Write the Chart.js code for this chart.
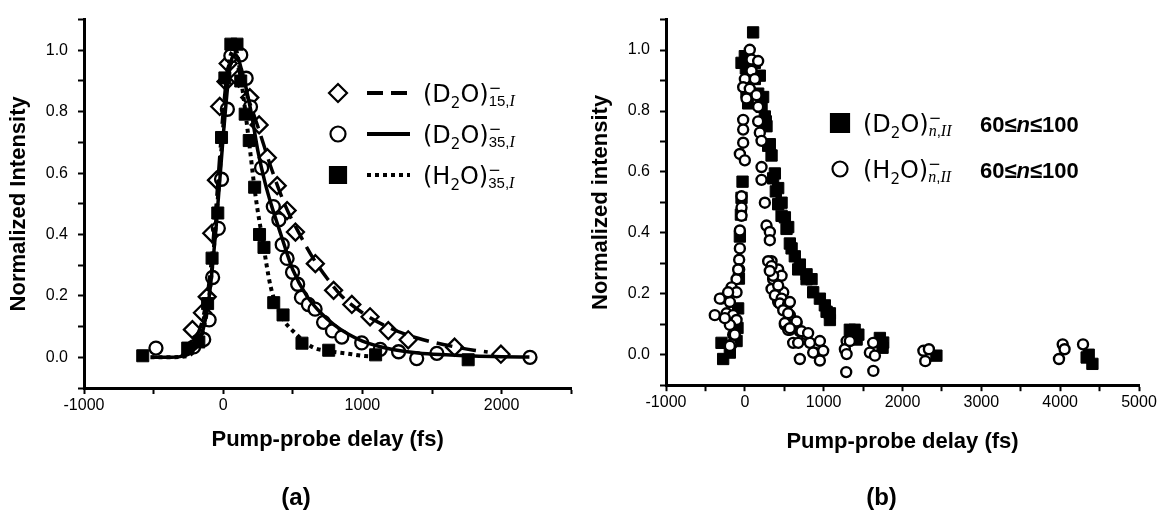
<!DOCTYPE html>
<html>
<head>
<meta charset="utf-8">
<script src="https://cdn.jsdelivr.net/npm/chart.js@4.4.1/dist/chart.umd.min.js"></script>
<style>
  html, body { margin: 0; padding: 0; background: #fff; }
  #wrap { position: relative; width: 1164px; height: 517px; }
  .panel { position: absolute; top: 0; width: 582px; height: 517px; }
</style>
</head>
<body>
<div id="wrap">
  <div class="panel" style="left:0"><canvas id="chartA" width="582" height="517"></canvas></div>
  <div class="panel" style="left:582px"><canvas id="chartB" width="582" height="517"></canvas></div>
</div>
<script>
// ---- Panel (a): data points ----
const d2o15X = [-221, -149, -115, -82, -48, -25, 20, 36, 111, 191, 258, 317, 388, 459, 519, 662, 793, 924, 1055, 1186, 1329, 1662, 1995];
const d2o15Y = [0.09, 0.145, 0.197, 0.404, 0.577, 0.817, 0.898, 0.957, 0.909, 0.846, 0.757, 0.65, 0.559, 0.478, 0.408, 0.305, 0.218, 0.172, 0.132, 0.087, 0.057, 0.033, 0.01];

const d2o35X = [-483, -212, -140, -101, -76, -35, -12, 30, 55, 126, 165, 196, 276, 360, 400, 424, 459, 498, 535, 562, 612, 660, 721, 785, 852, 995, 1128, 1260, 1390, 1535, 2204];
const d2o35Y = [0.03, 0.034, 0.058, 0.122, 0.26, 0.42, 0.58, 0.808, 0.982, 0.985, 0.909, 0.816, 0.617, 0.491, 0.448, 0.367, 0.322, 0.277, 0.238, 0.195, 0.172, 0.157, 0.114, 0.086, 0.066, 0.047, 0.026, 0.018, -0.004, 0.013, 0.0];

const h2o35X = [-578, -255, -175, -112, -80, -39, -12, 12, 55, 99, 126, 158, 187, 226, 261, 293, 363, 430, 566, 758, 1095, 1760];
const h2o35Y = [0.005, 0.03, 0.05, 0.175, 0.323, 0.47, 0.716, 0.91, 1.02, 1.02, 0.9, 0.792, 0.706, 0.554, 0.4, 0.358, 0.178, 0.138, 0.046, 0.023, 0.008, -0.008];

// ---- Panel (a): fitted curves ----
const fit15X = [-300, -250, -200, -150, -100, -50, 0, 40, 80, 150, 250, 350, 450, 550, 650, 750, 850, 1000, 1200, 1400, 1600, 1800, 1900];
const fit15Y = [0.005, 0.02, 0.06, 0.12, 0.25, 0.5, 0.8, 0.95, 0.96, 0.88, 0.75, 0.61, 0.49, 0.4, 0.32, 0.255, 0.2, 0.145, 0.095, 0.062, 0.04, 0.023, 0.017];

const fit35X = [-520, -400, -300, -250, -200, -150, -100, -50, 0, 50, 90, 130, 200, 250, 300, 350, 400, 450, 500, 600, 700, 800, 900, 1000, 1200, 1400, 1600, 1800, 2000, 2200];
const fit35Y = [0.0, 0.0, 0.003, 0.01, 0.03, 0.08, 0.2, 0.43, 0.72, 0.95, 0.985, 0.94, 0.8, 0.67, 0.57, 0.49, 0.42, 0.35, 0.285, 0.2, 0.145, 0.105, 0.075, 0.053, 0.027, 0.014, 0.008, 0.004, 0.002, 0.001];

const fitH35X = [-580, -400, -250, -200, -150, -100, -50, 0, 50, 90, 130, 186, 234, 280, 341, 424, 519, 638, 760, 876, 1019, 1100];
const fitH35Y = [0.0, 0.0, 0.005, 0.03, 0.08, 0.2, 0.45, 0.75, 0.98, 1.0, 0.9, 0.7, 0.52, 0.39, 0.23, 0.13, 0.078, 0.034, 0.02, 0.013, 0.004, 0.003];

// ---- Panel (b): data points ----
const d2oNX = [-296, -275, -190, -105, -93, -85, -75, -63, -50, -42, -29, -42, 0, 13, 21, 42, 105, 127, 127, 169, 190, 212, 232, 254, 266, 275, 296, 317, 339, 359, 381, 393, 423, 423, 466, 466, 508, 529, 550, 571, 593, 634, 677, 698, 783, 783, 846, 867, 952, 1015, 1037, 1079, 1079, 1332, 1393, 1418, 1440, 1713, 1747, 1755, 2430, 4336, 4362, 4409];
const d2oNY = [0.039, -0.014, 0.007, 0.045, 0.088, 0.152, 0.25, 0.388, 0.46, 0.515, 0.568, 0.958, 0.98, 0.94, 0.862, 0.825, 1.058, 0.958, 0.905, 0.857, 0.916, 0.814, 0.846, 0.782, 0.766, 0.75, 0.686, 0.691, 0.654, 0.579, 0.595, 0.536, 0.547, 0.494, 0.499, 0.456, 0.451, 0.413, 0.419, 0.365, 0.349, 0.323, 0.28, 0.296, 0.264, 0.248, 0.248, 0.205, 0.184, 0.162, 0.141, 0.136, 0.114, 0.082, 0.082, 0.05, 0.066, 0.055, 0.023, 0.04, -0.003, -0.009, 0.0, -0.03];

const h2oNX = [63, 85, 169, 85, 0, 127, -21, 63, 148, 21, 169, -21, 169, -21, 190, -21, -63, 0, 212, 212, 212, 254, 275, 317, 317, 339, 423, 359, 466, 487, 381, 423, 529, 571, 508, 571,
  -42, -42, -42, -63, -63, -72, -72, -105, -169, -105, -296, -190, -381, -232, -148, -105, -190, -148, -169, -317, -212, -254, -127, -190, -85,
  296, 339, 359, 317, 339, 423, 381, 466, 444, 550, 487, 550, 508, 550, 656, 698, 698, 783, 825, 888, 952, 994, 952, 613, 571, 656, 571, 719, 803, 677, 867,
  1291, 1269, 1291, 1286, 1332, 1628, 1586, 1650, 1630, 2265, 2335, 2289, 3985, 4032, 4056, 4290];
const h2oNY = [1.001, 0.969, 0.964, 0.932, 0.905, 0.905, 0.878, 0.873, 0.852, 0.841, 0.814, 0.771, 0.766, 0.739, 0.729, 0.696, 0.659, 0.638, 0.702, 0.616, 0.574, 0.499, 0.424, 0.403, 0.376, 0.307, 0.28, 0.248, 0.259, 0.205, 0.211, 0.173, 0.163, 0.13, 0.098, 0.082,
  0.52, 0.483, 0.456, 0.408, 0.349, 0.312, 0.28, 0.248, 0.221, 0.205, 0.184, 0.173, 0.13, 0.136, 0.13, 0.114, 0.098, 0.066, 0.034, 0.184, 0.205, 0.12, 0.066, 0.029, 0.28,
  0.307, 0.291, 0.259, 0.275, 0.216, 0.227, 0.195, 0.184, 0.168, 0.168, 0.146, 0.136, 0.104, 0.082, 0.104, 0.077, -0.014, 0.066, 0.039, 0.007, 0.045, 0.013, -0.019, 0.039, 0.173, 0.109, 0.087, 0.077, 0.071, 0.039, 0.007,
  0.045, 0.018, 0.002, -0.057, 0.045, 0.039, 0.007, -0.003, -0.053, 0.013, 0.018, -0.021, -0.014, 0.034, 0.018, 0.034];

// ---- tick labels ----
const xLabelsA = [-1000, 0, 1000, 2000];
const xLabelsB = [-1000, 0, 1000, 2000, 3000, 4000, 5000];
const yLabels = [0.0, 0.2, 0.4, 0.6, 0.8, 1.0];

const SANS = '"Liberation Sans", Arial, sans-serif';
const toXY = (xs, ys) => xs.map((x, i) => ({ x: x, y: ys[i] }));

// padLeft only moves the "(a)"/"(b)" caption; the plot edge stays at x = 84
function buildOptions(cfg) {
  return {
    responsive: false,
    animation: false,
    events: [],
    layout: { padding: { top: cfg.padTop, right: cfg.padRight, bottom: 4, left: cfg.padLeft } },
    plugins: {
      legend: { display: false },
      tooltip: { enabled: false },
      title: {
        display: true, text: cfg.label, position: 'bottom', color: '#000', padding: 0,
        font: { family: SANS, size: 24, weight: 'bold' }
      }
    },
    scales: {
      x: {
        type: 'linear', min: cfg.xMin, max: cfg.xMax,
        border: { display: true, color: '#000', width: 3 },
        grid: { display: true, drawOnChartArea: false, drawTicks: true, tickLength: 6, tickWidth: 2, tickColor: '#000' },
        ticks: {
          stepSize: 500, autoSkip: false, maxRotation: 0, padding: 2, color: '#000',
          font: { family: SANS, size: 16 },
          callback: v => cfg.xLabels.includes(v) ? String(v) : ''
        },
        title: {
          display: true, text: 'Pump-probe delay (fs)', color: '#000',
          font: { family: SANS, size: 22, weight: 'bold' },
          padding: { top: 0, bottom: cfg.xTitlePad }
        },
        afterFit: s => { s.height = cfg.xAxisH; }
      },
      y: {
        type: 'linear', min: -0.1, max: 1.1,
        border: { display: true, color: '#000', width: 3 },
        grid: { display: true, drawOnChartArea: false, drawTicks: true, tickLength: 6, tickWidth: 2, tickColor: '#000' },
        ticks: {
          stepSize: 0.1, autoSkip: false, padding: 10, color: '#000',
          font: { family: SANS, size: 16 },
          callback: v => {
            const r = Math.round(v * 10) / 10;
            return yLabels.includes(r) ? r.toFixed(1) : '';
          }
        },
        title: {
          display: true, text: cfg.yTitle, color: '#000',
          font: { family: SANS, size: 22, weight: 'bold' },
          padding: { top: 6 - cfg.padLeft, bottom: 0 }
        },
        afterFit: s => { s.width = 84 - cfg.padLeft; }
      }
    }
  };
}

// legend helpers: marker + formula text with sub/superscripts
function drawMarker(ctx, style, x, y, r) {
  ctx.beginPath();
  if (style === 'diamond') {
    ctx.moveTo(x - r, y); ctx.lineTo(x, y - r); ctx.lineTo(x + r, y); ctx.lineTo(x, y + r); ctx.closePath();
  } else if (style === 'circle') {
    ctx.arc(x, y, r, 0, Math.PI * 2);
  } else {
    ctx.rect(x - r, y - r, 2 * r, 2 * r);
  }
  ctx.fillStyle = style === 'square' ? '#000' : '#fff';
  ctx.fill();
  ctx.lineWidth = 2.2;
  ctx.strokeStyle = '#000';
  ctx.stroke();
}

function drawRuns(ctx, x, y, runs) {
  ctx.fillStyle = '#000';
  ctx.textBaseline = 'alphabetic';
  ctx.textAlign = 'left';
  runs.forEach(r => {
    ctx.font = r.font;
    ctx.fillText(r.text, x, y + (r.dy || 0));
    if (!r.stay) x += ctx.measureText(r.text).width;
  });
  return x;
}

const MAIN = '24px "DejaVu Sans"';
const SUB = '15px "DejaVu Sans"';
const SUBN = '15px ' + SANS;
const SUBI = 'italic 16px "Liberation Serif"';

function formula(mol, digit, subRuns) {
  return [
    { text: '(' + mol, font: MAIN },
    { text: digit, font: SUB, dy: 6 },
    { text: 'O)', font: MAIN },
    { text: '\u2212', font: SUB, dy: -9, stay: true }
  ].concat(subRuns);
}

const legendA = {
  id: 'legendA',
  afterDraw(chart) {
    const ctx = chart.ctx;
    ctx.save();
    const rows = [
      { y: 93, marker: 'diamond', r: 9, dash: [16, 8], mol: 'D', sub: '15,' },
      { y: 134, marker: 'circle', r: 7.5, dash: [], mol: 'D', sub: '35,' },
      { y: 175, marker: 'square', r: 8, dash: [4, 4], mol: 'H', sub: '35,' }
    ];
    rows.forEach(row => {
      drawMarker(ctx, row.marker, 338, row.y, row.r);
      ctx.beginPath();
      ctx.setLineDash(row.dash);
      ctx.lineWidth = 4;
      ctx.strokeStyle = '#000';
      ctx.moveTo(367, row.y);
      ctx.lineTo(410, row.y);
      ctx.stroke();
      ctx.setLineDash([]);
      drawRuns(ctx, 423, row.y + 8.5, formula(row.mol, '2', [
        { text: row.sub, font: SUBN, dy: 4.5 },
        { text: 'I', font: SUBI, dy: 4.5 }
      ]));
    });
    ctx.restore();
  }
};

const legendB = {
  id: 'legendB',
  afterDraw(chart) {
    const ctx = chart.ctx;
    ctx.save();
    const rows = [
      { y: 123, marker: 'square', r: 9, mol: 'D' },
      { y: 169, marker: 'circle', r: 7.5, mol: 'H' }
    ];
    rows.forEach(row => {
      drawMarker(ctx, row.marker, 258, row.y, row.r);
      drawRuns(ctx, 281, row.y + 8.5, formula(row.mol, '2', [
        { text: 'n', font: SUBI, dy: 4 },
        { text: ',', font: SUBN, dy: 4 },
        { text: 'II', font: SUBI, dy: 4 }
      ]));
      drawRuns(ctx, 398, row.y + 8.5, [
        { text: '60\u2264', font: 'bold 22px ' + SANS },
        { text: 'n', font: 'italic bold 22px ' + SANS },
        { text: '\u2264100', font: 'bold 22px ' + SANS }
      ]);
    });
    ctx.restore();
  }
};

// ---- Chart (a) ----
// fitted lines sit on top of the open markers, as in the original figure
new Chart(document.getElementById('chartA'), {
  type: 'scatter',
  data: {
    datasets: [
      { label: 'fit (D2O)15', data: toXY(fit15X, fit15Y), showLine: true, pointRadius: 0, borderColor: '#000', borderWidth: 3.5, borderDash: [16, 8], cubicInterpolationMode: 'monotone', order: 0 },
      { label: 'fit (D2O)35', data: toXY(fit35X, fit35Y), showLine: true, pointRadius: 0, borderColor: '#000', borderWidth: 3.5, cubicInterpolationMode: 'monotone', order: 0 },
      { label: 'fit (H2O)35', data: toXY(fitH35X, fitH35Y), showLine: true, pointRadius: 0, borderColor: '#000', borderWidth: 4, borderDash: [4, 4], cubicInterpolationMode: 'monotone', order: 0 },
      { label: '(D2O)15', data: toXY(d2o15X, d2o15Y), pointStyle: 'rectRot', pointRadius: 8.5, backgroundColor: '#fff', borderColor: '#000', borderWidth: 2.3, order: 3 },
      { label: '(D2O)35', data: toXY(d2o35X, d2o35Y), pointStyle: 'circle', pointRadius: 6.5, backgroundColor: '#fff', borderColor: '#000', borderWidth: 2.3, order: 2 },
      { label: '(H2O)35', data: toXY(h2o35X, h2o35Y), pointStyle: 'rect', pointRadius: 8.5, backgroundColor: '#000', borderColor: '#000', borderWidth: 1, order: 1 }
    ]
  },
  options: buildOptions({
    label: '(a)', xMin: -1000, xMax: 2500, xLabels: xLabelsA, yTitle: 'Normalized Intensity',
    padTop: 18.5, padRight: 8, padLeft: 18, xAxisH: 96.2, xTitlePad: 31
  }),
  plugins: [legendA]
});

// ---- Chart (b) ----
new Chart(document.getElementById('chartB'), {
  type: 'scatter',
  data: {
    datasets: [
      { label: '(D2O)n,II', data: toXY(d2oNX, d2oNY), pointStyle: 'rect', pointRadius: 8, backgroundColor: '#000', borderColor: '#000', borderWidth: 1, order: 1 },
      { label: '(H2O)n,II', data: toXY(h2oNX, h2oNY), pointStyle: 'circle', pointRadius: 5, backgroundColor: '#fff', borderColor: '#000', borderWidth: 2.4, order: 0 }
    ]
  },
  options: buildOptions({
    label: '(b)', xMin: -1000, xMax: 5000, xLabels: xLabelsB, yTitle: 'Normalized intensity',
    padTop: 11, padRight: 25, padLeft: 42, xAxisH: 99, xTitlePad: 29
  }),
  plugins: [legendB]
});
</script>
</body>
</html>
